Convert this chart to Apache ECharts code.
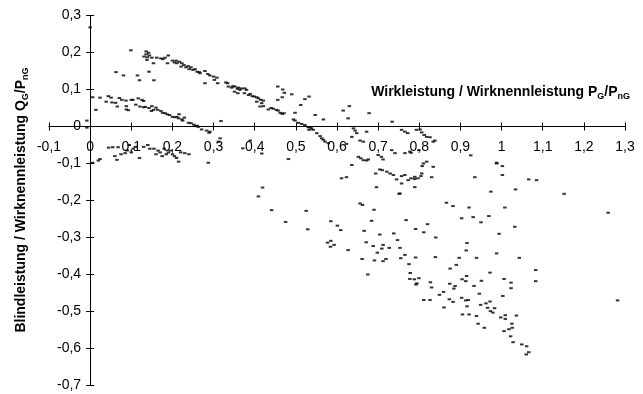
<!DOCTYPE html>
<html>
<head>
<meta charset="utf-8">
<script src="https://cdn.jsdelivr.net/npm/echarts@6/dist/echarts.min.js"></script>
<style>html,body{margin:0;padding:0;background:#fff}#c{width:643px;height:394px}</style>
</head>
<body>
<div id="c"></div>
<script>
// Achsen
var xMin = -0.1, xMax = 1.3, xStep = 0.1;
var yMin = -0.7, yMax = 0.3, yStep = 0.1;
var xTitle = ['Wirkleistung / Wirknennleistung P', 'G', '/P', 'nG'];
var yTitle = ['Blindleistung / Wirknennleistung Q', 'G', '/P', 'nG'];

// Messpunkte [P_G/P_nG, Q_G/P_nG]
var obenLinks = [[0,0.268],[0.063,0.147],[0.081,0.138],[0.115,0.138],[0.12,0.125],[0.143,0.148],[0.155,0.125]];
var obereSchar = [[0.099,0.206],[0.136,0.203],[0.142,0.199],[0.136,0.195],[0.144,0.192],[0.131,0.189],[0.139,0.187],[0.15,0.186],[0.138,0.18],[0.154,0.171],[0.162,0.186],[0.172,0.184],[0.177,0.182],[0.182,0.186],[0.19,0.192],[0.188,0.171],
[0.2,0.178],[0.205,0.173],[0.209,0.178],[0.211,0.171],[0.217,0.175],[0.223,0.171],[0.221,0.162],[0.228,0.166],[0.233,0.16],[0.238,0.163],[0.241,0.155],[0.245,0.16],[0.25,0.153],[0.255,0.155],[0.26,0.148],[0.265,0.147],
[0.267,0.144],[0.279,0.15],[0.286,0.142],[0.291,0.138],[0.3,0.135],[0.308,0.132],[0.302,0.126],[0.31,0.117],[0.279,0.117],
[0.33,0.119],[0.334,0.117],[0.336,0.108],[0.344,0.105],[0.347,0.109],[0.352,0.108],[0.358,0.102],[0.36,0.105],[0.364,0.099],[0.351,0.094],[0.359,0.09],[0.368,0.103],[0.376,0.103],[0.38,0.099],[0.375,0.09],[0.385,0.085],[0.389,0.088],[0.394,0.082],[0.399,0.081],[0.405,0.079],[0.409,0.076],[0.405,0.067],[0.415,0.072],[0.417,0.063],[0.421,0.07],[0.413,0.054],[0.421,0.055],[0.433,0.046],[0.44,0.05],[0.445,0.048],[0.453,0.045],[0.457,0.043],[0.462,0.037],[0.467,0.034],[0.471,0.036]];
var mittlereSchar = [[0.006,0.079],[0.024,0.078],[0.014,0.045],[0.044,0.082],[0.051,0.078],[0.039,0.067],[0.053,0.065],[0.062,0.064],[0.071,0.077],[0.077,0.072],[0.087,0.07],[0.1,0.072],[0.104,0.072],[0.066,0.054],[0.088,0.055],[0.088,0.046],[0.093,0.044],[0.117,0.076],[0.126,0.072],[0.13,0.069],[0.111,0.059],[0.121,0.054],[0.13,0.052],[0.134,0.053],[0.143,0.05],[0.15,0.055],[0.149,0.042],[0.154,0.045],[0.16,0.051],[0.164,0.045],[0.172,0.042],[0.176,0.037],[0.182,0.036],[0.187,0.033],[0.193,0.031],[0.2,0.026],[0.206,0.025],[0.211,0.026],[0.216,0.033],[0.215,0.022],[0.223,0.019],[0.225,0.016],[0.229,0.024],[0.239,0.01],[0.245,0.009],[0.252,0.005],[0.256,0.001],[0.26,0.002],[0.263,-0.001],[0.271,-0.008],[0.283,-0.011],[0.291,-0.014],[0.289,-0.017],[-0.008,0.016],[-0.008,-0.003]];
var untenLinks = [[0.006,-0.098],[0.02,-0.092],[0.024,-0.088],[0.045,-0.057],[0.055,-0.056],[0.068,-0.056],[0.06,-0.08],[0.065,-0.09],[0.075,-0.075],[0.085,-0.072],[0.09,-0.065],[0.1,-0.07],[0.095,-0.05],[0.105,-0.06],[0.11,-0.055],[0.12,-0.085],[0.13,-0.055],[0.14,-0.05],[0.145,-0.06],[0.155,-0.06],[0.16,-0.075],[0.165,-0.065],[0.17,-0.07],[0.175,-0.08],[0.18,-0.06],[0.185,-0.075],[0.19,-0.07],[0.195,-0.065],[0.2,-0.075],[0.205,-0.08],[0.21,-0.085],[0.215,-0.095],[0.22,-0.07],[0.23,-0.072],[0.24,-0.075],[0.287,-0.098]];
var achsNah = [[0.318,0.015],[0.316,-0.032],[0.312,-0.041],[0.371,-0.059],[0.389,-0.038],[0.417,-0.073],[0.482,-0.088],[0.456,0.108],[0.468,0.1],[0.472,0.091],[0.49,0.087],[0.467,0.079],[0.456,0.072],[0.512,0.058],[0.498,0.037],[0.522,0.074],[0.532,0.081],[0.494,0.019],[0.498,0.016],[0.506,0.01],[0.514,0.007],[0.522,0.004],[0.53,-0.002],
[0.63,0.055],[0.615,0.043],[0.678,0.036],[0.547,0.031],[0.567,0.019],[0.627,0.022],[0.734,0.013],[0.534,-0.002],[0.538,-0.005],[0.542,-0.009],[0.532,-0.009],[0.551,-0.018],[0.559,-0.026],[0.563,-0.032],[0.567,-0.036],[0.571,-0.041],[0.64,-0.005],[0.644,-0.011],[0.648,-0.018],[0.636,-0.028],[0.656,-0.038],[0.672,-0.014],[0.579,-0.045],[0.623,-0.047],[0.664,-0.041],[0.757,-0.009],[0.765,-0.014],[0.772,-0.018],[0.793,-0.009],[0.802,-0.008],[0.806,-0.016],[0.812,-0.023],[0.818,-0.028],[0.826,-0.029],[0.834,-0.041],[0.838,-0.038],[0.799,-0.064],[0.777,-0.068],[0.765,-0.072],
[0.708,-0.082],[0.712,-0.089],[0.7,-0.077],[0.652,-0.082],[0.658,-0.086],[0.664,-0.091],[0.672,-0.092],[0.676,-0.089],[0.636,-0.104],[0.733,-0.064],[0.741,-0.072],[0.78,-0.071],[0.925,-0.078],[0.807,-0.107],[0.818,-0.095],[0.834,-0.109],[0.988,-0.098],[1.002,-0.107]];
var untereSchar = [[0.704,-0.116],[0.71,-0.118],[0.721,-0.122],[0.729,-0.127],[0.737,-0.131],[0.745,-0.143],[0.757,-0.134],[0.765,-0.131],[0.773,-0.145],[0.78,-0.14],[0.789,-0.142],[0.757,-0.154],[0.789,-0.164],[0.753,-0.181],[0.696,-0.164],[0.611,-0.14],[0.623,-0.137],[0.656,-0.208],[0.694,-0.127],
[0.789,-0.136],[0.797,-0.14],[0.804,-0.134],[0.83,-0.137],[0.935,-0.137],[1.002,-0.131],[1.066,-0.143],[1.085,-0.145],[0.974,-0.176],[1.034,-0.17],[1.152,-0.182],[1.259,-0.233],[1.282,-0.47],
[0.866,-0.206],[0.882,-0.215],[0.921,-0.219],[0.903,-0.248],[0.931,-0.245],[0.95,-0.259],[0.969,-0.242],[1.008,-0.219],[0.82,-0.264],[1.032,-0.271],
[0.409,-0.189],[0.419,-0.165],[0.441,-0.226],[0.475,-0.258],[0.525,-0.228],[0.529,-0.278],[0.585,-0.256],[0.601,-0.268],[0.609,-0.28],[0.585,-0.309],[0.577,-0.314],[0.593,-0.32],[0.584,-0.325],[0.627,-0.334],[0.662,-0.212],[0.69,-0.225],[0.684,-0.255],[0.666,-0.282],[0.704,-0.292],[0.738,-0.289],[0.671,-0.313],[0.688,-0.323],[0.712,-0.32],[0.709,-0.33],[0.727,-0.328],[0.747,-0.307],[0.698,-0.341],[0.661,-0.358],[0.691,-0.362],[0.712,-0.364],[0.719,-0.358],[0.675,-0.4],
[0.768,-0.253],[0.791,-0.277],[0.811,-0.286],[0.84,-0.3],[0.994,-0.29],[0.753,-0.328],[0.916,-0.315],[0.914,-0.335],[0.765,-0.347],[0.755,-0.356],[0.791,-0.354],[0.839,-0.353],[0.897,-0.355],[0.939,-0.355],[0.988,-0.343],[1.043,-0.355],[1.083,-0.388],[1.083,-0.418],[0.775,-0.372],[0.778,-0.396],[0.777,-0.412],[0.788,-0.413],[0.799,-0.41],[0.794,-0.424],[0.792,-0.427],[0.875,-0.384],[0.89,-0.374],[0.827,-0.421],[0.83,-0.435],[0.859,-0.447],[0.849,-0.455],[0.874,-0.425],[0.887,-0.431],[0.884,-0.438],[0.904,-0.413],[0.913,-0.418],[0.915,-0.404],[0.951,-0.417],[0.933,-0.431],[0.946,-0.452],[0.972,-0.395],[1.006,-0.412],[1.023,-0.422],[1.023,-0.437],[1.003,-0.458],[0.811,-0.469],[0.826,-0.469],[0.873,-0.467],[0.882,-0.474],[0.903,-0.463],[0.913,-0.47],[0.919,-0.469],[0.86,-0.489],[0.916,-0.486],[0.949,-0.482],[0.962,-0.478],[0.972,-0.473],[0.983,-0.491],[0.966,-0.49],[0.973,-0.499],[0.979,-0.503],[0.905,-0.508],[0.921,-0.508],[0.939,-0.512],[0.998,-0.516],[1.009,-0.51],[1.009,-0.52],[1.036,-0.511],[0.943,-0.533],[0.958,-0.544],[1.025,-0.533],[1.026,-0.544],[1.018,-0.548],[1.006,-0.553],[1.022,-0.567],[1.028,-0.583],[1.049,-0.589],[1.061,-0.594],[1.066,-0.61],[1.06,-0.616],[0.751,-0.182],[0.81,-0.1],[0.806,-0.127],[0.988,-0.1]];

var allPoints = [].concat(obenLinks, obereSchar, mittlereSchar, untenLinks, achsNah, untereSchar);

function fmt(v) {
  var r = Math.round(v * 10) / 10;
  return String(r).replace('.', ',');
}
var FONT = '"Liberation Sans", Arial, sans-serif';
var axisLineStyle = { color: '#000', width: 1 };

// Plotbereich (Pixel) und Lage der Achsen-Nullpunkte darin
var G = { left: 49, top: 15.5, width: 576, height: 370 };
var zeroX = G.left + (0 - xMin) / (xMax - xMin) * G.width;   // senkrechte Achse bei P=0
var zeroY = G.top + (yMax - 0) / (yMax - yMin) * G.height;   // waagrechte Achse bei Q=0

function mkX(pos, main, off) {
  return {
    type: 'value', position: pos, offset: off, min: xMin, max: xMax, interval: xStep,
    axisLine: { show: true, onZero: false, lineStyle: axisLineStyle },
    axisTick: { show: true, inside: false, length: 4, lineStyle: axisLineStyle },
    axisLabel: { show: main, formatter: fmt, fontFamily: FONT, fontSize: 14, color: '#000', margin: 14 },
    splitLine: { show: false }
  };
}
function mkY(pos, main, off) {
  return {
    type: 'value', position: pos, offset: off, min: yMin, max: yMax, interval: yStep,
    axisLine: { show: true, onZero: false, lineStyle: axisLineStyle },
    axisTick: { show: true, inside: false, length: 4, lineStyle: axisLineStyle },
    axisLabel: { show: main, formatter: fmt, fontFamily: FONT, fontSize: 14, color: '#000', margin: 9 },
    splitLine: { show: false }
  };
}
var rich = {
  b: { fontFamily: FONT, fontSize: 14, fontWeight: 'bold', fill: '#000', color: '#000', lineHeight: 18, verticalAlign: 'middle' },
  s: { fontFamily: FONT, fontSize: 9, fontWeight: 'bold', fill: '#000', color: '#000', lineHeight: 18, verticalAlign: 'bottom' }
};
function richText(t) {
  return '{b|' + t[0] + '}{s|' + t[1] + '}{b|' + t[2] + '}{s|' + t[3] + '}';
}

var chart = echarts.init(document.getElementById('c'), null, { renderer: 'canvas' });
chart.setOption({
  animation: false,
  backgroundColor: '#fff',
  grid: { left: G.left, top: G.top, width: G.width, height: G.height, containLabel: false, outerBoundsMode: 'none' },
  xAxis: [
    mkX('bottom', true, zeroY - (G.top + G.height)),
    mkX('top', false, G.top - zeroY)
  ],
  yAxis: [
    mkY('left', true, G.left - zeroX),
    mkY('right', false, zeroX - (G.left + G.width))
  ],
  graphic: [
    { type: 'text', x: 630, y: 92, style: { text: richText(xTitle), rich: rich, align: 'right', verticalAlign: 'middle', fill: '#000' } },
    { type: 'text', x: 21, y: 200, rotation: Math.PI / 2, style: { text: richText(yTitle), rich: rich, align: 'center', verticalAlign: 'middle', fill: '#000' } }
  ],
  series: [{
    type: 'scatter',
    xAxisIndex: 0, yAxisIndex: 0,
    symbol: 'rect',
    symbolSize: [3.5, 2],
    itemStyle: { color: '#000' },
    data: allPoints
  }]
});
</script>
</body>
</html>
